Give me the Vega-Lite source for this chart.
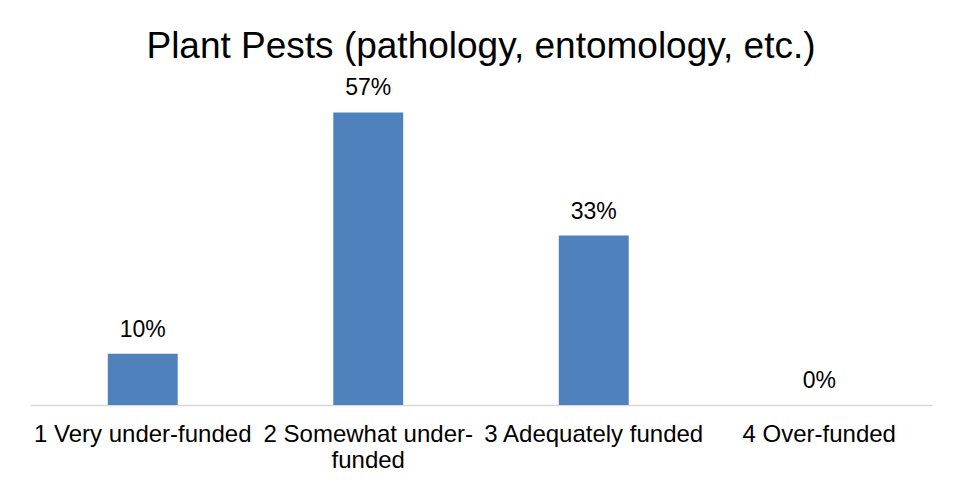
{
  "$schema": "https://vega.github.io/schema/vega-lite/v6.json",
  "width": 902,
  "height": 308,
  "padding": {"left": 30, "right": 29, "top": 28, "bottom": 10},
  "background": "white",
  "config": {
    "font": "Liberation Sans",
    "view": {"stroke": null}
  },
  "title": {
    "text": "Plant Pests (pathology, entomology, etc.)",
    "fontSize": 37,
    "font": "Liberation Sans",
    "fontWeight": "normal",
    "color": "#000000",
    "anchor": "middle",
    "offset": 11
  },
  "data": {
    "values": [
      {"category": "1 Very under-funded", "share": 0.10},
      {"category": "2 Somewhat under-funded", "share": 0.57},
      {"category": "3 Adequately funded", "share": 0.33},
      {"category": "4 Over-funded", "share": 0.0}
    ]
  },
  "encoding": {
    "x": {
      "field": "category",
      "type": "nominal",
      "sort": null,
      "scale": {"paddingInner": 0.69, "paddingOuter": 0.345},
      "axis": {
        "title": null,
        "labelAngle": 0,
        "labelFontSize": 24,
        "labelColor": "#000000",
        "labelPadding": 17,
        "labelLineHeight": 26,
        "labelLimit": 400,
        "ticks": false,
        "domainColor": "#d9d9d9",
        "domainWidth": 1.5,
        "labelExpr": "datum.value == '2 Somewhat under-funded' ? ['2 Somewhat under-', 'funded'] : datum.value"
      }
    },
    "y": {
      "field": "share",
      "type": "quantitative",
      "scale": {"domain": [0, 0.6]},
      "axis": null
    }
  },
  "layer": [
    {"mark": {"type": "bar", "color": "#4F81BD"}},
    {
      "mark": {"type": "text", "baseline": "alphabetic", "dy": -17, "fontSize": 23, "color": "#000000"},
      "encoding": {"text": {"field": "share", "type": "quantitative", "format": ".0%"}}
    }
  ]
}
